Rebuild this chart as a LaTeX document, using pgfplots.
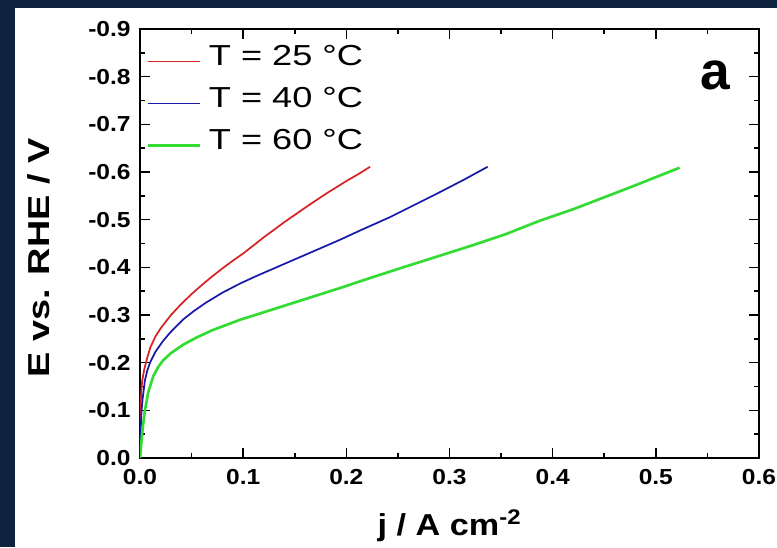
\documentclass[border=0pt]{standalone}
\usepackage{fontspec}
\setmainfont{Liberation Sans}[FakeStretch=1.13]
\newfontfamily\legfont{Liberation Sans}[FakeStretch=1.25]
\newfontfamily\panelfont{Liberation Sans}
\usepackage{pgfplots}
\pgfplotsset{compat=1.18}
\definecolor{navy}{RGB}{14,35,64}
\definecolor{c25}{RGB}{215,35,35}
\definecolor{c40}{RGB}{25,25,170}
\definecolor{c60}{RGB}{50,220,50}

\begin{document}
\begin{tikzpicture}
% frame around the figure
\fill[navy] (-105pt,-66.75pt) rectangle (477.75pt,343.5pt);
\fill[white] (-93.75pt,-66.75pt) rectangle (477.75pt,337.5pt);
\begin{axis}[
  scale only axis, width=464.25pt, height=321.75pt,
  at={(0,0)}, anchor=south west,
  xmin=0, xmax=0.6, ymin=-0.9, ymax=0, y dir=reverse,
  xtick={0,0.1,0.2,0.3,0.4,0.5,0.6},
  ytick={-0.9,-0.8,-0.7,-0.6,-0.5,-0.4,-0.3,-0.2,-0.1,0},
  minor x tick num=1, minor y tick num=1,
  tick align=inside, major tick length=7.5pt, minor tick length=3.75pt,
  axis line style={line width=1.2pt},
  every tick/.style={line width=1.2pt, black},
  /pgf/number format/assume math mode=true,
  /pgf/number format/fixed, /pgf/number format/fixed zerofill,
  /pgf/number format/precision=1,
  tick label style={font=\bfseries\fontsize{16.3}{16.3}\selectfont},
  xticklabel style={yshift=-5pt},
  yticklabel style={xshift=-3.5pt},
  xlabel={j / A cm\textsuperscript{-2}},
  ylabel={E vs. RHE / V},
  xlabel style={font=\bfseries\fontsize{22.7}{22.7}\selectfont,
    at={(axis description cs:0.5,-0.1795)}, anchor=base},
  ylabel style={font=\legfont\bfseries\fontsize{22.7}{22.7}\selectfont,
    at={(axis description cs:-0.1454,0.466)}, anchor=base},
  legend style={at={(axis description cs:0,1)}, anchor=north west,
    xshift=4.5pt, yshift=-12pt, draw=none, fill=none, inner sep=0pt,
    row sep=15pt, font=\legfont\fontsize{21.7}{21.7}\selectfont,
    nodes={inner sep=0pt},
    /tikz/every odd column/.append style={column sep=6pt}},
  legend cell align=left,
  legend image code/.code={\draw[#1] (0pt,-3.75pt) -- (39pt,-3.75pt);},
]
\addplot[c25, line width=1.3pt] coordinates {
  (0,0) (0.0002,-0.05) (0.0005,-0.10) (0.001,-0.13) (0.002,-0.16)
  (0.004,-0.185) (0.007,-0.21) (0.010,-0.232) (0.015,-0.255)
  (0.020,-0.272) (0.030,-0.300) (0.040,-0.323) (0.050,-0.344)
  (0.060,-0.363) (0.070,-0.381) (0.080,-0.398) (0.090,-0.414)
  (0.100,-0.429) (0.120,-0.463) (0.140,-0.495) (0.160,-0.525)
  (0.180,-0.554) (0.200,-0.581) (0.212,-0.596) (0.223,-0.611)
};
\addlegendentry{T = 25 °C}
\addplot[c40, line width=1.3pt] coordinates {
  (0,0) (0.0003,-0.03) (0.0006,-0.055) (0.0015,-0.10) (0.0026,-0.125)
  (0.0048,-0.163) (0.007,-0.183) (0.0097,-0.200) (0.015,-0.223)
  (0.0225,-0.246) (0.030,-0.265) (0.042,-0.291) (0.052,-0.308)
  (0.064,-0.326) (0.080,-0.347) (0.097,-0.366) (0.113,-0.382)
  (0.129,-0.397) (0.145,-0.412) (0.161,-0.427) (0.177,-0.442)
  (0.193,-0.457) (0.213,-0.477) (0.242,-0.505) (0.266,-0.531)
  (0.290,-0.557) (0.315,-0.585) (0.337,-0.611)
};
\addlegendentry{T = 40 °C}
\addplot[c60, line width=2pt] coordinates {
  (0,0) (0.0008,-0.02) (0.0016,-0.04) (0.003,-0.07) (0.0048,-0.10)
  (0.008,-0.138) (0.0129,-0.172) (0.018,-0.192) (0.0225,-0.205)
  (0.030,-0.220) (0.042,-0.238) (0.055,-0.253) (0.070,-0.268)
  (0.097,-0.290) (0.129,-0.312) (0.161,-0.334) (0.193,-0.356)
  (0.225,-0.379) (0.255,-0.400) (0.290,-0.424) (0.322,-0.446)
  (0.355,-0.470) (0.3865,-0.497) (0.420,-0.522) (0.444,-0.542)
  (0.480,-0.572) (0.523,-0.609)
};
\addlegendentry{T = 60 °C}
\node[anchor=base, font=\panelfont\bfseries\fontsize{40}{40}\selectfont]
  at (axis description cs:0.93,0.858) {a};
\end{axis}
\pgfresetboundingbox
\useasboundingbox (-105pt,-66.75pt) rectangle (477.75pt,343.5pt);
\end{tikzpicture}
\end{document}
